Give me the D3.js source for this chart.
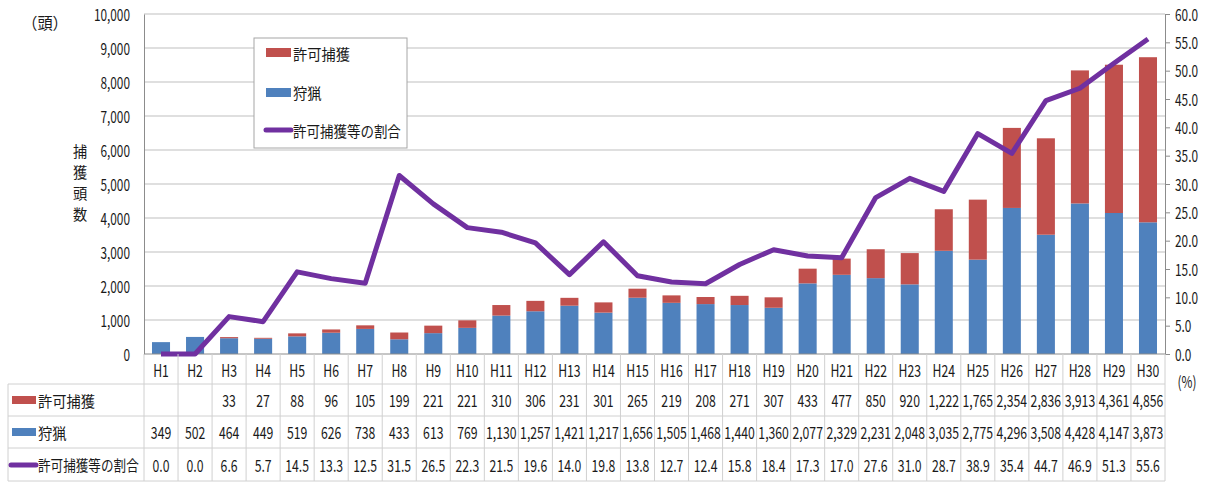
<!DOCTYPE html>
<html>
<head>
<meta charset="utf-8">
<script src="https://cdn.jsdelivr.net/npm/d3@7/dist/d3.min.js"></script>
<style>
body { margin: 0; background: #fff; }
text { font-family: "Noto Sans CJK JP", "Noto Sans", sans-serif; fill: #1a1a1a; }
</style>
</head>
<body>
<div id="chart"></div>
<script>
// data
const years = ["H1","H2","H3","H4","H5","H6","H7","H8","H9","H10","H11","H12","H13","H14","H15",
  "H16","H17","H18","H19","H20","H21","H22","H23","H24","H25","H26","H27","H28","H29","H30"];
const permit = [null,null,33,27,88,96,105,199,221,221,310,306,231,301,265,219,208,271,307,433,477,850,920,1222,1765,2354,2836,3913,4361,4856];
const hunting = [349,502,464,449,519,626,738,433,613,769,1130,1257,1421,1217,1656,1505,1468,1440,1360,2077,2329,2231,2048,3035,2775,4296,3508,4428,4147,3873];
const ratio = [0.0,0.0,6.6,5.7,14.5,13.3,12.5,31.5,26.5,22.3,21.5,19.6,14.0,19.8,13.8,12.7,12.4,15.8,18.4,17.3,17.0,27.6,31.0,28.7,38.9,35.4,44.7,46.9,51.3,55.6];
const leftTicks = d3.range(0, 10001, 1000);
const rightTicks = d3.range(0, 60.1, 5);

const RED = "#c0504d", BLUE = "#4f81bd", PURPLE = "#7030a0";
const GRID = "#bfbfbf", TABLE = "#d0d0d0", AXIS = "#8c8c8c";

const W = 1206, H = 484;
const svg = d3.select("#chart").append("svg").attr("width", W).attr("height", H);

const x0 = 144, x1 = 1165, yTop = 14, yBot = 354;
const x = d3.scaleBand().domain(years).range([x0, x1]).padding(0);
const yL = d3.scaleLinear().domain([0, 10000]).range([yBot, yTop]);
const yR = d3.scaleLinear().domain([0, 60]).range([yBot, yTop]);

// narrow text helper (the reference uses a condensed face)
function ntext(sel, px, py, str, anchor, size, sx) {
  sel.append("text")
    .attr("transform", `translate(${px},${py}) scale(${sx || 0.74},1)`)
    .attr("text-anchor", anchor || "middle")
    .attr("dominant-baseline", "central")
    .style("font-size", (size || 16) + "px")
    .text(str);
}

// gridlines
svg.append("g").selectAll("line").data(leftTicks.slice(1)).join("line")
  .attr("x1", x0).attr("x2", x1)
  .attr("y1", d => yL(d)).attr("y2", d => yL(d))
  .attr("stroke", GRID).attr("stroke-width", 1);

// left axis
const gl = svg.append("g").attr("transform", `translate(${x0},0)`)
  .call(d3.axisLeft(yL).tickValues(leftTicks).tickSize(0).tickFormat(d3.format(",")));
gl.select(".domain").attr("stroke", AXIS);
gl.selectAll("text").remove();
leftTicks.forEach(t => ntext(svg, 130, yL(t), d3.format(",")(t), "end", 16));

// right axis
const gr = svg.append("g").attr("transform", `translate(${x1},0)`)
  .call(d3.axisRight(yR).tickValues(rightTicks).tickSize(5).tickFormat(d3.format(".1f")));
gr.select(".domain").attr("stroke", AXIS);
gr.selectAll(".tick line").attr("stroke", AXIS);
gr.selectAll("text").remove();
rightTicks.forEach(t => ntext(svg, 1175, yR(t), d3.format(".1f")(t), "start", 16));

// bars
const bw = x.bandwidth() * 0.53;
const bars = svg.append("g");
bars.selectAll(".hunt").data(years).join("rect")
  .attr("x", d => x(d) + (x.bandwidth() - bw) / 2)
  .attr("width", bw)
  .attr("y", (d, i) => yL(hunting[i]))
  .attr("height", (d, i) => yBot - yL(hunting[i]))
  .attr("fill", BLUE);
bars.selectAll(".perm").data(years).join("rect")
  .attr("x", d => x(d) + (x.bandwidth() - bw) / 2)
  .attr("width", bw)
  .attr("y", (d, i) => yL(hunting[i] + (permit[i] || 0)))
  .attr("height", (d, i) => yL(hunting[i]) - yL(hunting[i] + (permit[i] || 0)))
  .attr("fill", RED);

// x axis line
svg.append("line").attr("x1", x0).attr("x2", x1).attr("y1", yBot).attr("y2", yBot)
  .attr("stroke", AXIS);

// ratio line
const line = d3.line()
  .x((d, i) => x(years[i]) + x.bandwidth() / 2)
  .y(d => yR(d));
svg.append("path").datum(ratio)
  .attr("d", line)
  .attr("fill", "none")
  .attr("stroke", PURPLE)
  .attr("stroke-width", 5)
  .attr("stroke-linejoin", "round");

// data table
const rows = [384, 416, 448, 481];
const tbl = svg.append("g");
years.concat(["end"]).forEach((d, i) => {
  const xx = i < years.length ? x(d) : x1;
  tbl.append("line").attr("x1", xx).attr("x2", xx).attr("y1", yBot).attr("y2", rows[3])
    .attr("stroke", TABLE);
});
rows.forEach(r => tbl.append("line").attr("x1", 8).attr("x2", x1).attr("y1", r).attr("y2", r)
  .attr("stroke", TABLE));
tbl.append("line").attr("x1", 8).attr("x2", 8).attr("y1", rows[0]).attr("y2", rows[3]).attr("stroke", TABLE);

const cx = d => x(d) + x.bandwidth() / 2;
years.forEach((d, i) => {
  ntext(svg, cx(d), 370, d, "middle", 17, 0.72);
  if (permit[i] != null) ntext(svg, cx(d), 400, d3.format(",")(permit[i]), "middle", 17, 0.72);
  ntext(svg, cx(d), 432, d3.format(",")(hunting[i]), "middle", 17, 0.72);
  ntext(svg, cx(d), 465, d3.format(".1f")(ratio[i]), "middle", 17, 0.72);
});

// row headers
tbl.append("rect").attr("x", 12).attr("y", 396).attr("width", 24).attr("height", 8).attr("fill", RED);
tbl.append("rect").attr("x", 12).attr("y", 428).attr("width", 24).attr("height", 8).attr("fill", BLUE);
tbl.append("line").attr("x1", 11).attr("x2", 36).attr("y1", 465).attr("y2", 465)
  .attr("stroke", PURPLE).attr("stroke-width", 5).attr("stroke-linecap", "round");
ntext(svg, 38, 400, "許可捕獲", "start", 15, 0.95);
ntext(svg, 38, 432, "狩猟", "start", 15, 0.95);
ntext(svg, 38, 465, "許可捕獲等の割合", "start", 15, 0.84);

// legend
const lg = svg.append("g");
lg.append("rect").attr("x", 254).attr("y", 38).attr("width", 153).attr("height", 110)
  .attr("fill", "#fff").attr("stroke", "#a6a6a6");
lg.append("rect").attr("x", 266).attr("y", 48).attr("width", 25).attr("height", 9).attr("fill", RED);
lg.append("rect").attr("x", 266).attr("y", 88).attr("width", 25).attr("height", 9).attr("fill", BLUE);
lg.append("line").attr("x1", 266).attr("x2", 291).attr("y1", 130).attr("y2", 130)
  .attr("stroke", PURPLE).attr("stroke-width", 5).attr("stroke-linecap", "round");
ntext(lg, 293, 53, "許可捕獲", "start", 15, 0.95);
ntext(lg, 293, 92, "狩猟", "start", 15, 0.95);
ntext(lg, 293, 130, "許可捕獲等の割合", "start", 15, 0.9);

// axis titles
ntext(svg, 45, 22, "（頭）", "middle", 16, 0.95);
["捕", "獲", "頭", "数"].forEach((c, i) => ntext(svg, 80, 150 + i * 21, c, "middle", 15, 0.95));
ntext(svg, 1187, 381, "(%)", "middle", 16);
</script>
</body>
</html>
